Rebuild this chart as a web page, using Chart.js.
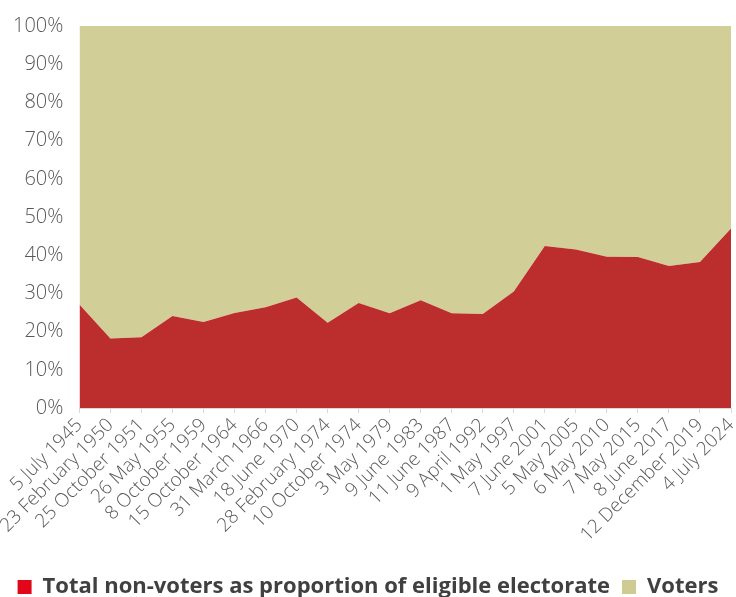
<!DOCTYPE html>
<html>
<head>
<meta charset="utf-8">
<script src="https://cdn.jsdelivr.net/npm/chart.js@4/dist/chart.umd.min.js"></script>
<style>
  html, body { margin: 0; padding: 0; background: #ffffff; }
  #wrap { width: 736px; height: 597px; position: relative; }
</style>
</head>
<body>
<div id="wrap"><canvas id="c" width="736" height="597"></canvas></div>
<script>
const categories = [
  "5 July 1945", "23 February 1950", "25 October 1951", "26 May 1955",
  "8 October 1959", "15 October 1964", "31 March 1966", "18 June 1970",
  "28 February 1974", "10 October 1974", "3 May 1979", "9 June 1983",
  "11 June 1987", "9 April 1992", "1 May 1997", "7 June 2001",
  "5 May 2005", "6 May 2010", "7 May 2015", "8 June 2017",
  "12 December 2019", "4 July 2024"
];
const nonVoters = [
  27.1, 18.2, 18.5, 24.1, 22.5, 24.9, 26.4, 28.9, 22.3, 27.5, 24.8,
  28.2, 24.8, 24.6, 30.5, 42.4, 41.5, 39.6, 39.5, 37.2, 38.2, 47.0
];
const voters = [
  72.9, 81.8, 81.5, 75.9, 77.5, 75.1, 73.6, 71.1, 77.7, 72.5, 75.2,
  71.8, 75.2, 75.4, 69.5, 57.6, 58.5, 60.4, 60.5, 62.8, 61.8, 53.0
];
const yTicks = [0, 10, 20, 30, 40, 50, 60, 70, 80, 90, 100];
const seriesNames = ["Total non-voters as proportion of eligible electorate", "Voters"];

const textGray = "#595959";

new Chart(document.getElementById("c"), {
  type: "line",
  data: {
    labels: categories,
    datasets: [
      {
        label: seriesNames[0],
        data: nonVoters,
        fill: "origin",
        backgroundColor: "#bc2e2e",
        borderColor: "#bc2e2e",
        borderWidth: 0,
        pointRadius: 0,
        tension: 0,
        legendColor: "#e2061a"
      },
      {
        label: seriesNames[1],
        data: voters,
        fill: "-1",
        backgroundColor: "#d1ce98",
        borderColor: "#d1ce98",
        borderWidth: 0,
        pointRadius: 0,
        tension: 0,
        legendColor: "#cfcb93"
      }
    ]
  },
  options: {
    responsive: false,
    animation: false,
    devicePixelRatio: 1,
    layout: { padding: { left: 5, right: 5, top: 26, bottom: -11 } },
    scales: {
      x: {
        offset: false,
        afterFit: (scale) => { scale.paddingRight = 0; scale.paddingLeft = 70; scale.height = 156; },
        grid: { display: true, drawOnChartArea: false, drawTicks: true, tickLength: 5, color: "#d9d9d9" },
        border: { display: true, color: "#d9d9d9" },
        ticks: {
          color: textGray,
          font: { family: "'Open Sans'", size: 19, weight: 300 },
          minRotation: 45,
          maxRotation: 45,
          autoSkip: false,
          padding: 1
        }
      },
      y: {
        stacked: true,
        min: 0,
        max: 100,
        afterFit: (scale) => { scale.paddingTop = 0; scale.paddingBottom = 0; },
        afterBuildTicks: (axis) => { axis.ticks = yTicks.map(v => ({ value: v })); },
        grid: { display: false },
        border: { display: false },
        ticks: {
          color: textGray,
          font: { family: "'Open Sans'", size: 20, weight: 300 },
          padding: 8,
          callback: (v) => v + "%"
        }
      }
    },
    plugins: {
      tooltip: { enabled: false },
      legend: {
        position: "bottom",
        labels: {
          color: "#404040",
          font: { family: "'Open Sans'", size: 22, weight: "bold" },
          boxWidth: 14,
          boxHeight: 14,
          padding: 12,
          generateLabels: (chart) => chart.data.datasets.map((ds, i) => ({
            text: ds.label,
            fillStyle: ds.legendColor,
            strokeStyle: ds.legendColor,
            lineWidth: 0,
            hidden: false,
            datasetIndex: i,
            fontColor: "#404040"
          }))
        }
      }
    }
  }
});
</script>
</body>
</html>
